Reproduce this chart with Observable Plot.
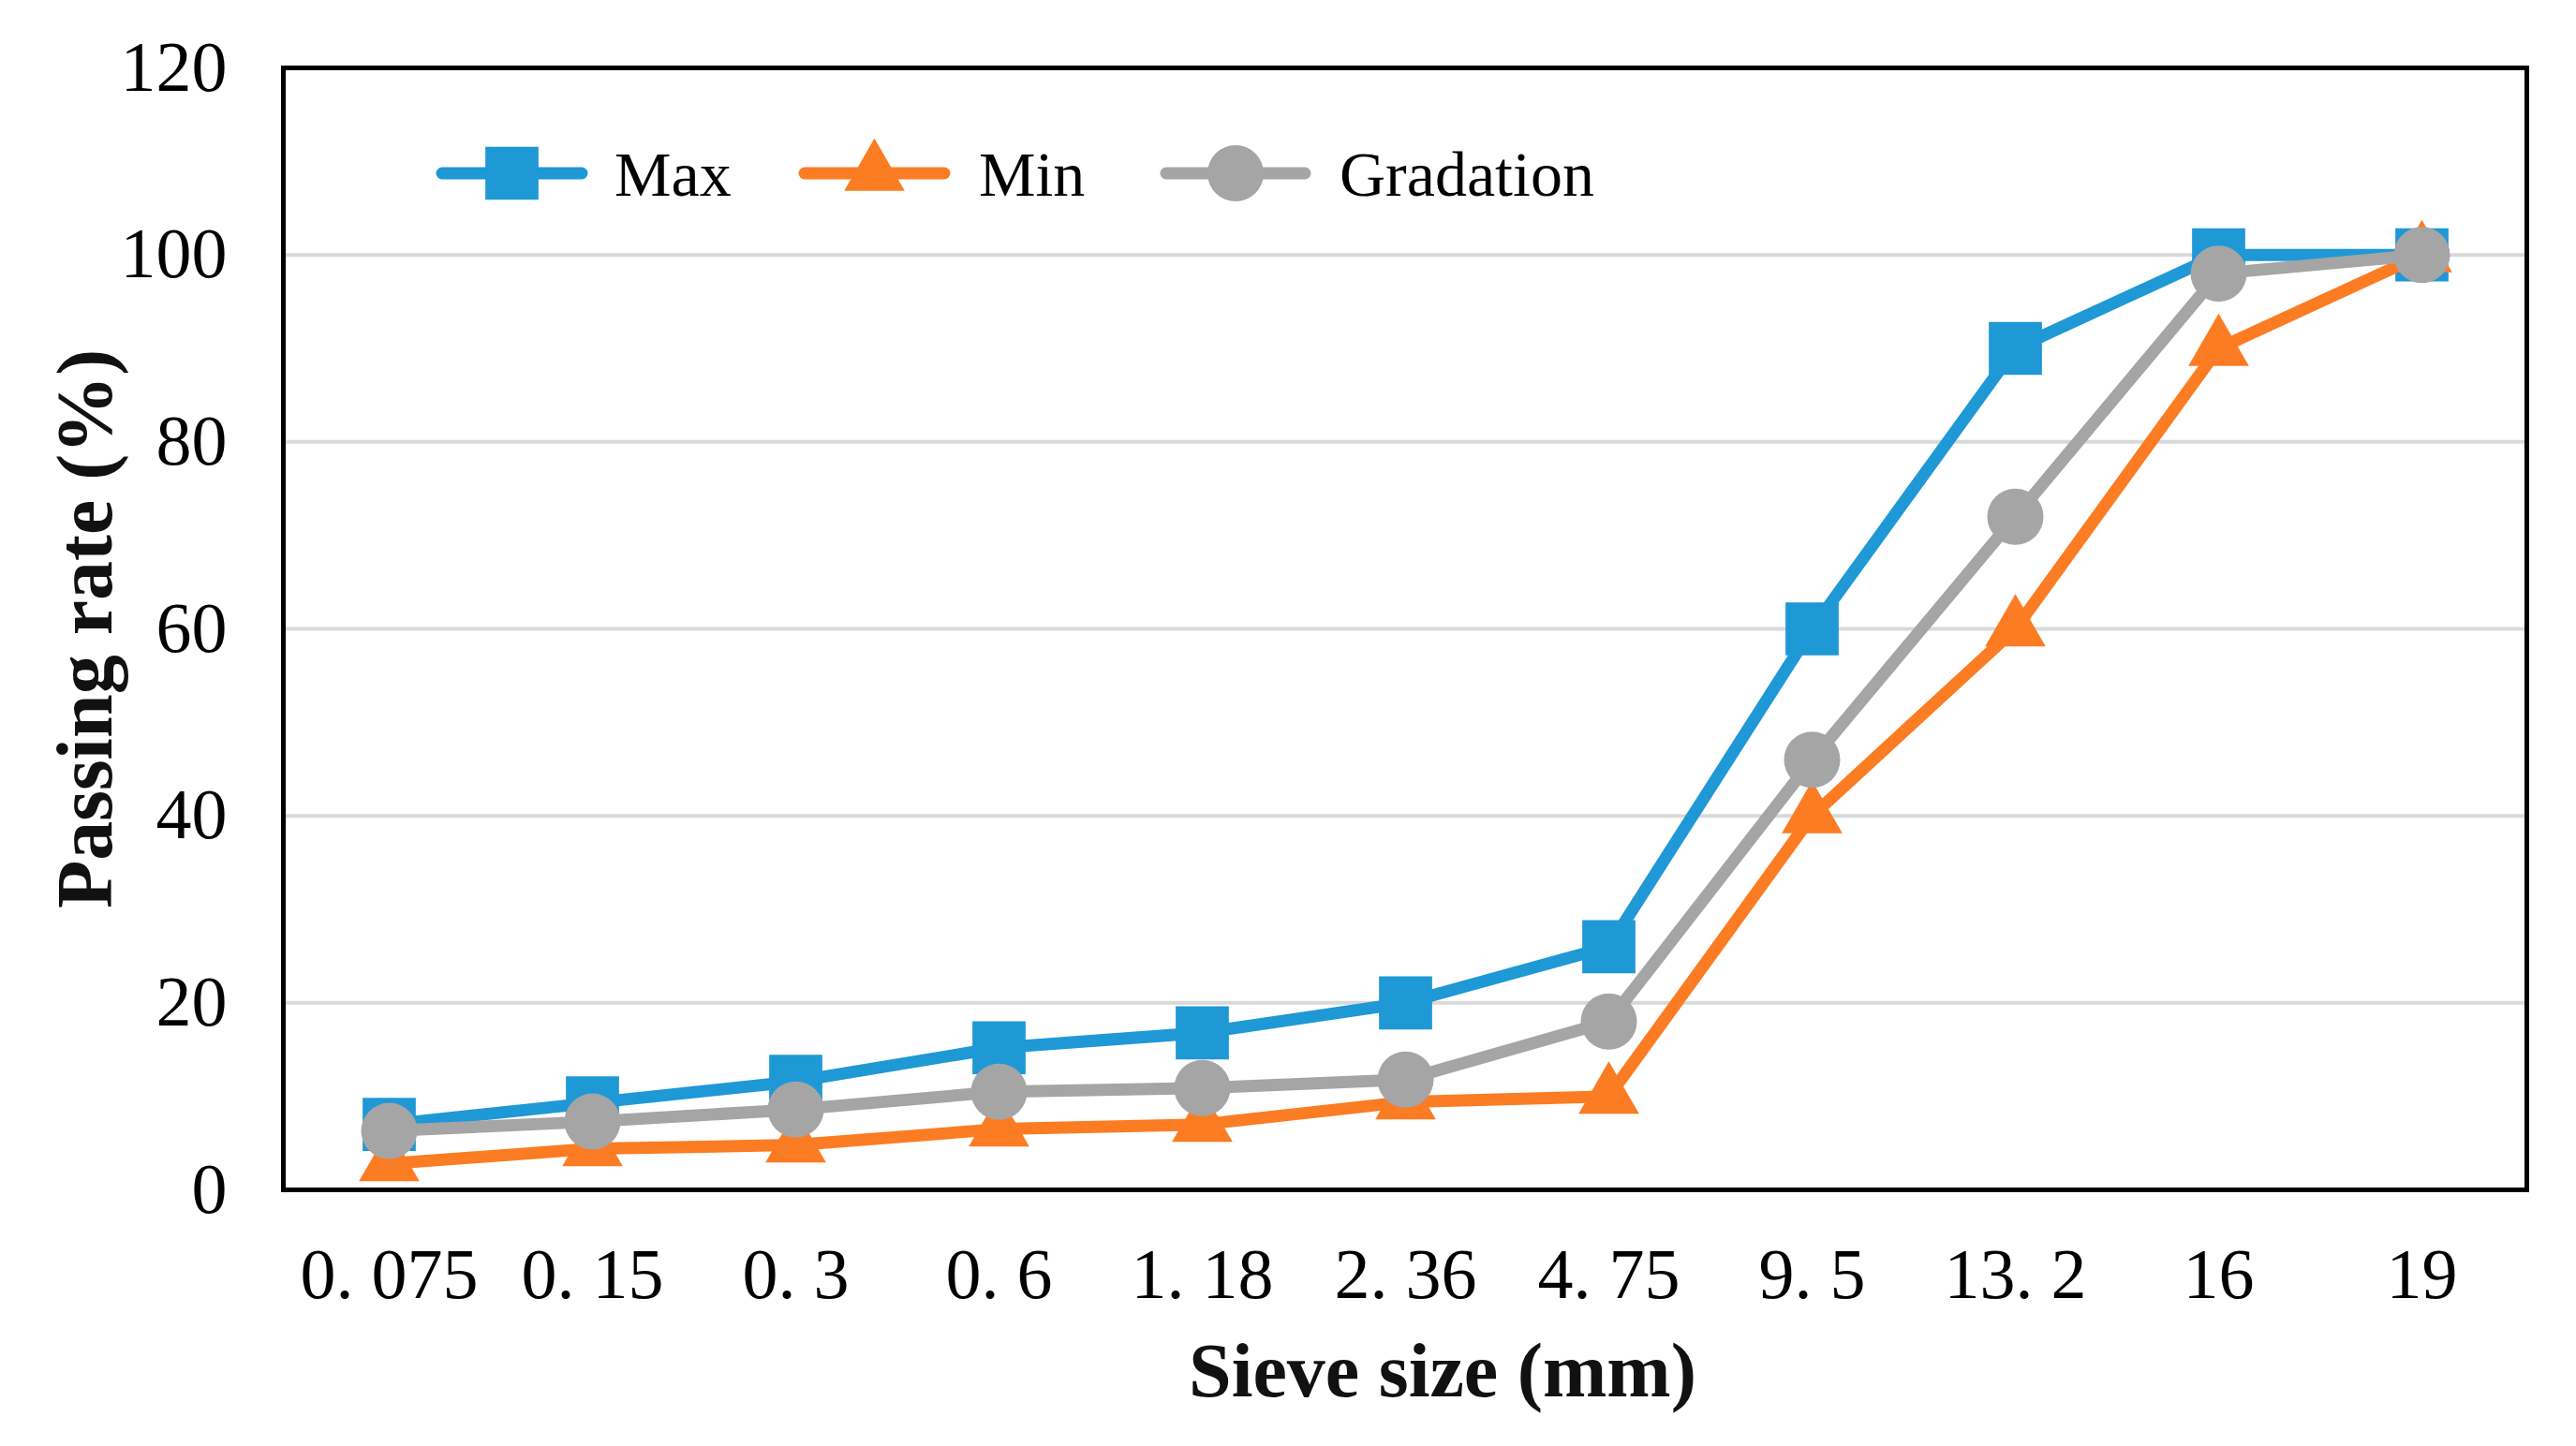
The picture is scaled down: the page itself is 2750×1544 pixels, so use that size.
<!DOCTYPE html>
<html>
<head>
<meta charset="utf-8">
<script src="https://cdn.jsdelivr.net/npm/d3@7"></script>
<script src="https://cdn.jsdelivr.net/npm/@observablehq/plot@0.6"></script>
<style>
  html, body { margin: 0; padding: 0; background: white; }
  #chart { position: relative; width: 2750px; height: 1544px; }
</style>
</head>
<body>
<div id="chart"></div>
<script>
const sieves = ["0. 075", "0. 15", "0. 3", "0. 6", "1. 18", "2. 36", "4. 75", "9. 5", "13. 2", "16", "19"];
const maxValues = [7, 9.3, 11.6, 15.2, 16.8, 20, 26, 60, 90, 100, 100];
const minValues = [2.8, 4.4, 4.8, 6.5, 7, 9.4, 10, 40, 60, 90, 100];
const gradationValues = [6.3, 7.3, 8.6, 10.5, 10.9, 11.8, 18, 46, 72, 98, 100];
const seriesNames = ["Max", "Min", "Gradation"];
const seriesColors = ["#1f98d6", "#fb7c22", "#a5a5a5"];
const seriesSymbols = ["square", "triangle", "circle"];
const yTicks = [0, 20, 40, 60, 80, 100, 120];
const gridTicks = [20, 40, 60, 80, 100];

const seriesValues = [maxValues, minValues, gradationValues];
const series = seriesNames.map((name, k) => ({
  name, color: seriesColors[k], symbol: seriesSymbols[k],
  rows: sieves.map((s, i) => ({sieve: s, value: seriesValues[k][i], name}))
}));

const symbolR = {square: 32, triangle: 24, circle: 30};

const marks = [
  Plot.gridY(gridTicks, {stroke: "#d9d9d9", strokeWidth: 4, strokeOpacity: 1}),
  Plot.axisY(yTicks, {tickSize: 0, tickPadding: 60, label: null, fontSize: 76}),
  Plot.axisX({tickSize: 0, tickPadding: 62, label: null, fontSize: 76}),
  Plot.frame({stroke: "black", strokeWidth: 5})
];
for (const s of series) {
  marks.push(Plot.line(s.rows, {x: "sieve", y: "value", stroke: s.color, strokeWidth: 13, strokeLinejoin: "round"}));
  marks.push(Plot.dot(s.rows, {x: "sieve", y: "value", fill: s.color, stroke: "none", symbol: s.symbol, r: symbolR[s.symbol]}));
}
marks.push(Plot.text(["Passing rate (%)"], {frameAnchor: "left", textAnchor: "middle", dx: -210, rotate: -90, fontWeight: "bold", fontSize: 84, fill: "#111"}));
marks.push(Plot.text(["Sieve size (mm)"], {frameAnchor: "bottom", textAnchor: "middle", dx: 40, dy: 220, fontWeight: "bold", fontSize: 82, fill: "#111"}));

const chart = Plot.plot({
  width: 2750,
  height: 1544,
  marginLeft: 302,
  marginRight: 53,
  marginTop: 72,
  marginBottom: 274,
  style: {fontFamily: "'Liberation Serif', 'Times New Roman', serif", color: "black", background: "white"},
  x: {type: "point", domain: sieves, padding: 0.5},
  y: {domain: [0, 120]},
  marks
});
document.getElementById("chart").appendChild(chart);

// Legend (inside plot area, top-left)
const svg = d3.select(chart);
const legend = svg.append("g")
  .attr("font-family", "'Liberation Serif', 'Times New Roman', serif")
  .attr("font-size", 68)
  .attr("text-anchor", "start");
const legendItems = [
  {x0: 472, x1: 621, text: 656},
  {x0: 859, x1: 1008, text: 1045},
  {x0: 1245, x1: 1393, text: 1430}
];
const ly = 185;
series.forEach((s, k) => {
  const it = legendItems[k];
  const g = legend.append("g");
  g.append("line").attr("x1", it.x0).attr("x2", it.x1).attr("y1", ly).attr("y2", ly)
    .attr("stroke", s.color).attr("stroke-width", 13).attr("stroke-linecap", "round");
  const r = symbolR[s.symbol];
  const sym = s.symbol === "square" ? d3.symbolSquare : s.symbol === "triangle" ? d3.symbolTriangle : d3.symbolCircle;
  g.append("path").attr("d", d3.symbol(sym, Math.PI * r * r)())
    .attr("transform", `translate(${(it.x0 + it.x1) / 2},${ly})`).attr("fill", s.color);
  g.append("text").attr("x", it.text).attr("y", ly).attr("dy", "0.35em").attr("fill", "black").text(s.name);
});
</script>
</body>
</html>
